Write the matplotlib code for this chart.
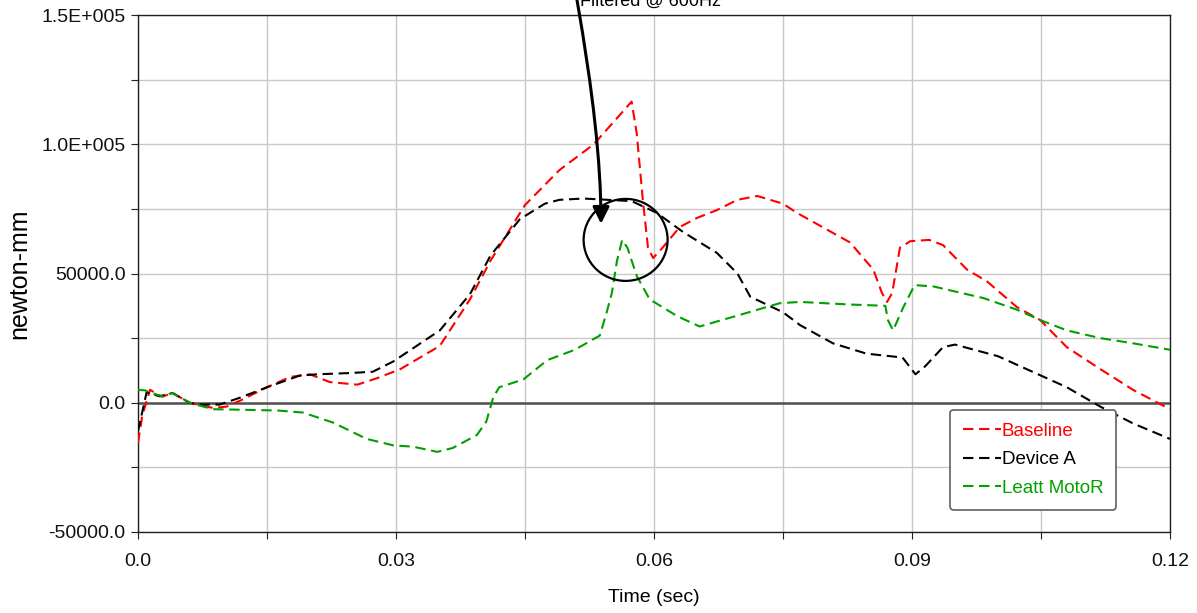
import matplotlib
matplotlib.use("Agg")
import matplotlib.pyplot as plt
from matplotlib.patches import Ellipse
from matplotlib.ticker import MultipleLocator, FixedLocator

plt.rcParams['font.family'] = ['Liberation Sans', 'DejaVu Sans']

# ---- data (time in sec, moment in newton-mm) ----
baseline_t = [0.0, 0.0005, 0.0014, 0.0028, 0.004, 0.006, 0.0087, 0.0103, 0.012, 0.015, 0.0177,
              0.020, 0.0223, 0.0255, 0.0278, 0.0305, 0.0351, 0.0386, 0.041, 0.045, 0.049, 0.053,
              0.0574, 0.058, 0.0587, 0.0593, 0.0599, 0.061, 0.063, 0.065, 0.0673, 0.0697, 0.072,
              0.075, 0.0766, 0.0828, 0.0855, 0.0865, 0.0871, 0.0877, 0.0886, 0.0898, 0.092,
              0.0936, 0.0964, 0.0987, 0.1022, 0.1049, 0.108, 0.1119, 0.1157, 0.12]
baseline_v = [-15500, -5000, 5000, 2300, 3800, 0, -2000, -1500, 1000, 6000, 10000,
              11000, 8000, 7000, 9500, 13000, 22000, 40000, 55000, 76500, 90000, 100000,
              116500, 104000, 78500, 60000, 56000, 60000, 68000, 71500, 74500, 78500, 80000,
              77000, 73500, 62000, 51500, 42500, 39000, 42500, 60000, 62500, 63000,
              61000, 51500, 47000, 37000, 32000, 21500, 13000, 5000, -2500]

devicea_t = [0.0, 0.0004, 0.001, 0.0025, 0.004, 0.006, 0.0072, 0.0095, 0.0119, 0.015, 0.0188,
             0.0208, 0.0247, 0.0273, 0.0297, 0.0351, 0.0386, 0.041, 0.0444, 0.0473, 0.049,
             0.0518, 0.0574, 0.0603, 0.0634, 0.0673, 0.0697, 0.0712, 0.075, 0.077, 0.0808,
             0.0847, 0.0889, 0.0904, 0.0915, 0.0936, 0.095, 0.100, 0.104, 0.108, 0.1119,
             0.1157, 0.12]
devicea_v = [-11000, -5000, 4000, 2500, 3800, 0, -700, -700, 2000, 6000, 10500,
             11000, 11500, 12000, 16000, 28000, 42000, 57000, 71000, 77000, 78500,
             79000, 78000, 73500, 66000, 58000, 50000, 41000, 35000, 30000, 23000,
             19000, 17500, 11000, 14000, 21500, 22500, 18000, 12000, 6000, -1500,
             -8000, -14000]

leatt_t = [0.0, 0.0008, 0.0014, 0.0028, 0.004, 0.006, 0.0087, 0.0119, 0.0162, 0.0192, 0.0227,
           0.0266, 0.0297, 0.032, 0.0348, 0.0366, 0.0394, 0.0405, 0.0413, 0.042, 0.0448,
           0.0476, 0.0508, 0.0537, 0.0545, 0.0551, 0.0557, 0.0563, 0.0569, 0.058, 0.0595,
           0.0627, 0.0653, 0.070, 0.0746, 0.077, 0.0828, 0.0869, 0.0872, 0.0878, 0.089,
           0.0903, 0.0925, 0.0944, 0.0983, 0.1022, 0.1049, 0.108, 0.1119, 0.1157, 0.12]
leatt_v = [5000, 4800, 4000, 2500, 3800, 0, -2500, -2700, -3000, -3800, -7700,
           -14000, -16500, -17000, -19000, -17500, -12500, -7300, 2000, 6000, 9000,
           16500, 20500, 26000, 35000, 42500, 55000, 63000, 60000, 49000, 40000,
           33500, 29500, 34000, 38500, 39000, 38000, 37500, 32000, 28000, 37000,
           45500, 45000, 43500, 40500, 36000, 32000, 28000, 25000, 23000, 20500]

series_names = ["Baseline", "Device A", "Leatt MotoR"]
series_colors = ["#ff0000", "#000000", "#00a000"]

x_ticks = [0.0, 0.03, 0.06, 0.09, 0.12]
x_tick_labels = ["0.0", "0.03", "0.06", "0.09", "0.12"]
y_ticks = [-50000, 0, 50000, 100000, 150000]
y_tick_labels = ["-50000.0", "0.0", "50000.0", "1.0E+005", "1.5E+005"]

# ---- figure ----
fig = plt.figure(figsize=(11.97, 6.13), dpi=100)
ax = fig.add_axes([138/1197, 1-532/613, (1170-138)/1197, (532-15)/613])

ax.set_xlim(0, 0.12)
ax.set_ylim(-50000, 150000)

ax.xaxis.set_major_locator(FixedLocator(x_ticks))
ax.set_xticklabels(x_tick_labels)
ax.xaxis.set_minor_locator(MultipleLocator(0.015))
ax.yaxis.set_major_locator(FixedLocator(y_ticks))
ax.set_yticklabels(y_tick_labels)
ax.yaxis.set_minor_locator(MultipleLocator(25000))

ax.grid(True, which='both', color='#c8c8c8', linewidth=1.0, zorder=0)
ax.set_axisbelow(True)
ax.axhline(0, color='#505050', linewidth=1.8, zorder=1)

for sp in ax.spines.values():
    sp.set_color('#202020')
    sp.set_linewidth(1.0)

ax.tick_params(axis='both', which='both', direction='out', length=5, width=0.8,
               color='#202020', labelsize=14, labelcolor='#111111')
ax.tick_params(axis='x', which='both', pad=10)
ax.tick_params(axis='y', which='both', pad=4)

data = [(baseline_t, baseline_v), (devicea_t, devicea_v), (leatt_t, leatt_v)]
handles = []
for (t, v), name, c in zip(data, series_names, series_colors):
    h, = ax.plot(t, v, color=c, linestyle=(0, (5, 2.7)), linewidth=1.5, label=name, zorder=3)
    handles.append(h)

leg = ax.legend(handles=handles, loc='lower left', bbox_to_anchor=(0.787, 0.043),
                fontsize=13.5, handlelength=2.0, handletextpad=0.05, borderpad=0.7,
                labelspacing=0.6, frameon=True, fancybox=True, framealpha=1,
                edgecolor='#606060', borderaxespad=0)
leg.get_frame().set_linewidth(1.2)
for txt, c in zip(leg.get_texts(), series_colors):
    txt.set_color(c)

ax.set_xlabel("Time (sec)", fontsize=14, va='center')
ax.xaxis.set_label_coords(0.5, -(598-532)/517)
ax.set_ylabel("newton-mm", fontsize=18, va='center')
ax.yaxis.set_label_coords((19-138)/1032, 0.5)

# circle highlighting the filtered region
circ = Ellipse((0.0567, 63000), width=84*0.12/1032, height=82*200000/517,
               fill=False, edgecolor='black', linewidth=1.6, zorder=5)
ax.add_patch(circ)

# annotation text (partly cut off at top) and curved arrow
fig.text(651/1197, 1-6/613, "Filtered @ 600Hz", ha='center', va='baseline',
         fontsize=13, color='black')
ax.annotate("", xy=(0.05384, 69250), xycoords='data',
            xytext=(577/1197, 1.0), textcoords='figure fraction',
            arrowprops=dict(arrowstyle='-|>,head_length=1.0,head_width=0.5',
                            color='black', linewidth=2.2,
                            connectionstyle='angle3,angleA=-80,angleB=90',
                            shrinkA=0, shrinkB=0),
            zorder=6, annotation_clip=False)

fig.savefig("out.png", dpi=100)
